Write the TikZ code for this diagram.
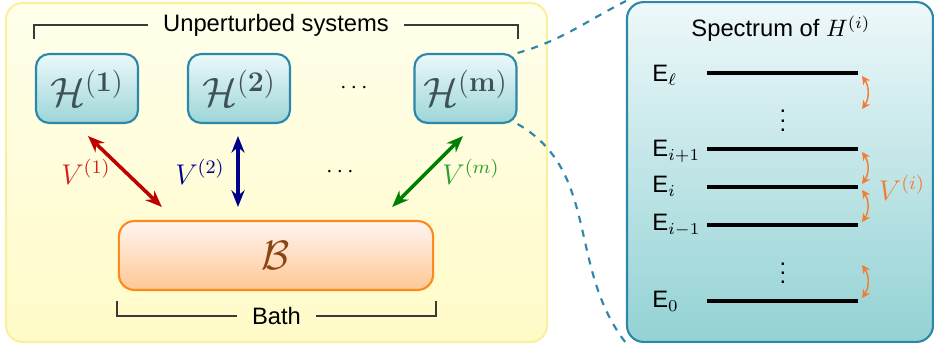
\documentclass[tikz,border=0pt]{standalone}
\usepackage{amsmath}
\usepackage{amssymb}
\usepackage[no-math]{fontspec}
\setmainfont{Liberation Sans}
\usetikzlibrary{calc, arrows.meta, positioning}

\definecolor{sysfilltop}{HTML}{FFFFEC}
\definecolor{sysfillbot}{HTML}{FFFBC8}
\definecolor{sysedge}{HTML}{FBF0A0}
\definecolor{tealedge}{HTML}{2D87A9}
\definecolor{tealtop}{HTML}{ECF8FA}
\definecolor{tealbot}{HTML}{9CD6D8}
\definecolor{spectop}{HTML}{EEF8FA}
\definecolor{specbot}{HTML}{93D2D4}
\definecolor{hgray}{HTML}{3E5158}
\definecolor{bathedge}{HTML}{FF8A1C}
\definecolor{bathtop}{HTML}{FFF5F2}
\definecolor{bathbot}{HTML}{FFC794}
\definecolor{bathtext}{HTML}{8B4513}
\definecolor{bracketgray}{HTML}{3A3A3A}
\definecolor{vred}{HTML}{C00000}
\definecolor{vredtxt}{HTML}{D42020}
\definecolor{vblue}{HTML}{00008B}
\definecolor{vgreen}{HTML}{008000}
\definecolor{vgreentxt}{HTML}{2E9E2E}
\definecolor{vorange}{HTML}{F47B30}

\begin{document}
\begin{tikzpicture}[x=0.0148cm, y=-0.0148cm,
    hbox/.style={draw=tealedge, line width=0.9pt, rounded corners=5.5pt,
      top color=tealtop, bottom color=tealbot, text=hgray,
      minimum width=1.51cm, minimum height=1.02cm, font=\LARGE},
    bathbox/.style={draw=bathedge, line width=0.9pt, rounded corners=6.5pt,
      top color=bathtop, bottom color=bathbot, text=bathtext,
      minimum width=4.65cm, minimum height=1.02cm, font=\LARGE},
    bline/.style={draw=bracketgray, line width=0.6pt},
    bracelabel/.style={inner xsep=6pt, inner ysep=2pt},
    coupling/.style={<->, >={Stealth[length=7pt, width=5.5pt]}, line width=1.5pt},
    energy/.style={line width=1.3pt},
    vjump/.style={<->, >={Stealth[length=3.5pt, width=3.5pt]}, draw=vorange, line width=0.6pt},
    zoomline/.style={dashed, draw=tealedge, line width=0.9pt},
  ]

    \useasboundingbox (0,0) rectangle (934,349);

    % Background of the unperturbed systems + bath
    \draw[draw=sysedge, line width=0.9pt, rounded corners=7pt,
      top color=sysfilltop, bottom color=sysfillbot] (6,3) rectangle (547,342);

    % Unperturbed systems
    \node[hbox] (H1) at (87,88.5) {$\mathcal{H}^{(\mathbf{1})}$};
    \node[hbox] (H2) at (239,88.5) {$\mathcal{H}^{(\mathbf{2})}$};
    \node (hdots) at (356,88) {$\cdots$};
    \node[hbox] (Hm) at (465.5,88.5) {$\mathcal{H}^{(\mathbf{m})}$};

    % Bracket on top
    \node[bracelabel] (syslbl) at (276,25) {Unperturbed systems};
    \draw[bline] (syslbl.west) -| (34,39);
    \draw[bline] (syslbl.east) -| (518,39);

    % Bath
    \node[bathbox] (bath) at (276,255.5) {$\mathcal{B}$};
    \node[bracelabel] (bathlbl) at (276.5,316) {Bath};
    \draw[bline] (bathlbl.west) -| (117,301);
    \draw[bline] (bathlbl.east) -| (436,301);

    % Couplings to the bath
    \draw[coupling, vred] ($(H1.south)+(1,12)$) -- ($(bath.north west)+(44,-13)$);
    \draw[coupling, vblue] ($(H2.south)+(-1,12)$) -- ($(bath.north)+(-38,-13)$);
    \draw[coupling, vgreen] ($(Hm.south)+(-2.5,12)$) -- ($(bath.north east)+(-42,-13)$);
    \node[text=vredtxt, font=\large] (V1) at (86,172) {$V^{(1)}$};
    \node[text=vblue, font=\large] (V2) at (200,172) {$V^{(2)}$};
    \node (vdots) at (342,172) {$\cdots$};
    \node[text=vgreentxt, font=\large] (Vm) at (471,172) {$V^{(m)}$};

    % Spectrum panel
    \node[draw=tealedge, line width=0.9pt, rounded corners=7pt,
      top color=spectop, bottom color=specbot,
      minimum width=4.53cm, minimum height=5.03cm] (spec) at (780,172) {};
    \node[anchor=base] (title) at (781,37) {Spectrum of $H^{(i)}$};

    % Zoom lines
    \draw[zoomline] (Hm.north east) to[out=16, in=207] (spec.north west);
    \draw[zoomline] (Hm.south east) to[out=-30, in=128] (spec.south west);

    % Energy levels
    \foreach \n/\y in {l/73, ip/149, i/187, im/225, z/301}
      \draw[energy] (707,\y) coordinate (\n w) -- (858,\y) coordinate (\n e);
    \node[anchor=base west] (El) at (644,82) {E$_\ell$};
    \node[anchor=base west] (Eip) at (644,157) {E$_{i+1}$};
    \node[anchor=base west] (Ei) at (644,193) {E$_i$};
    \node[anchor=base west] (Eim) at (644,231) {E$_{i-1}$};
    \node[anchor=base west] (Ez) at (644,308) {E$_0$};
    \node[anchor=base] (vd1) at (783,132) {$\vdots$};
    \node[anchor=base] (vd2) at (783,284) {$\vdots$};

    % Transitions
    \draw[vjump] (le) ++(4,3) to[bend left=35] ++(0,33);
    \draw[vjump] (ipe) ++(4,3) to[bend left=35] ++(0,32);
    \draw[vjump] (ie) ++(4,3) to[bend left=35] ++(0,32);
    \draw[vjump] (ze) ++(4,-36) to[bend left=35] ++(0,33);
    \node[text=vorange, font=\large] (Vi) at (902,188) {$V^{(i)}$};

\end{tikzpicture}
\end{document}
